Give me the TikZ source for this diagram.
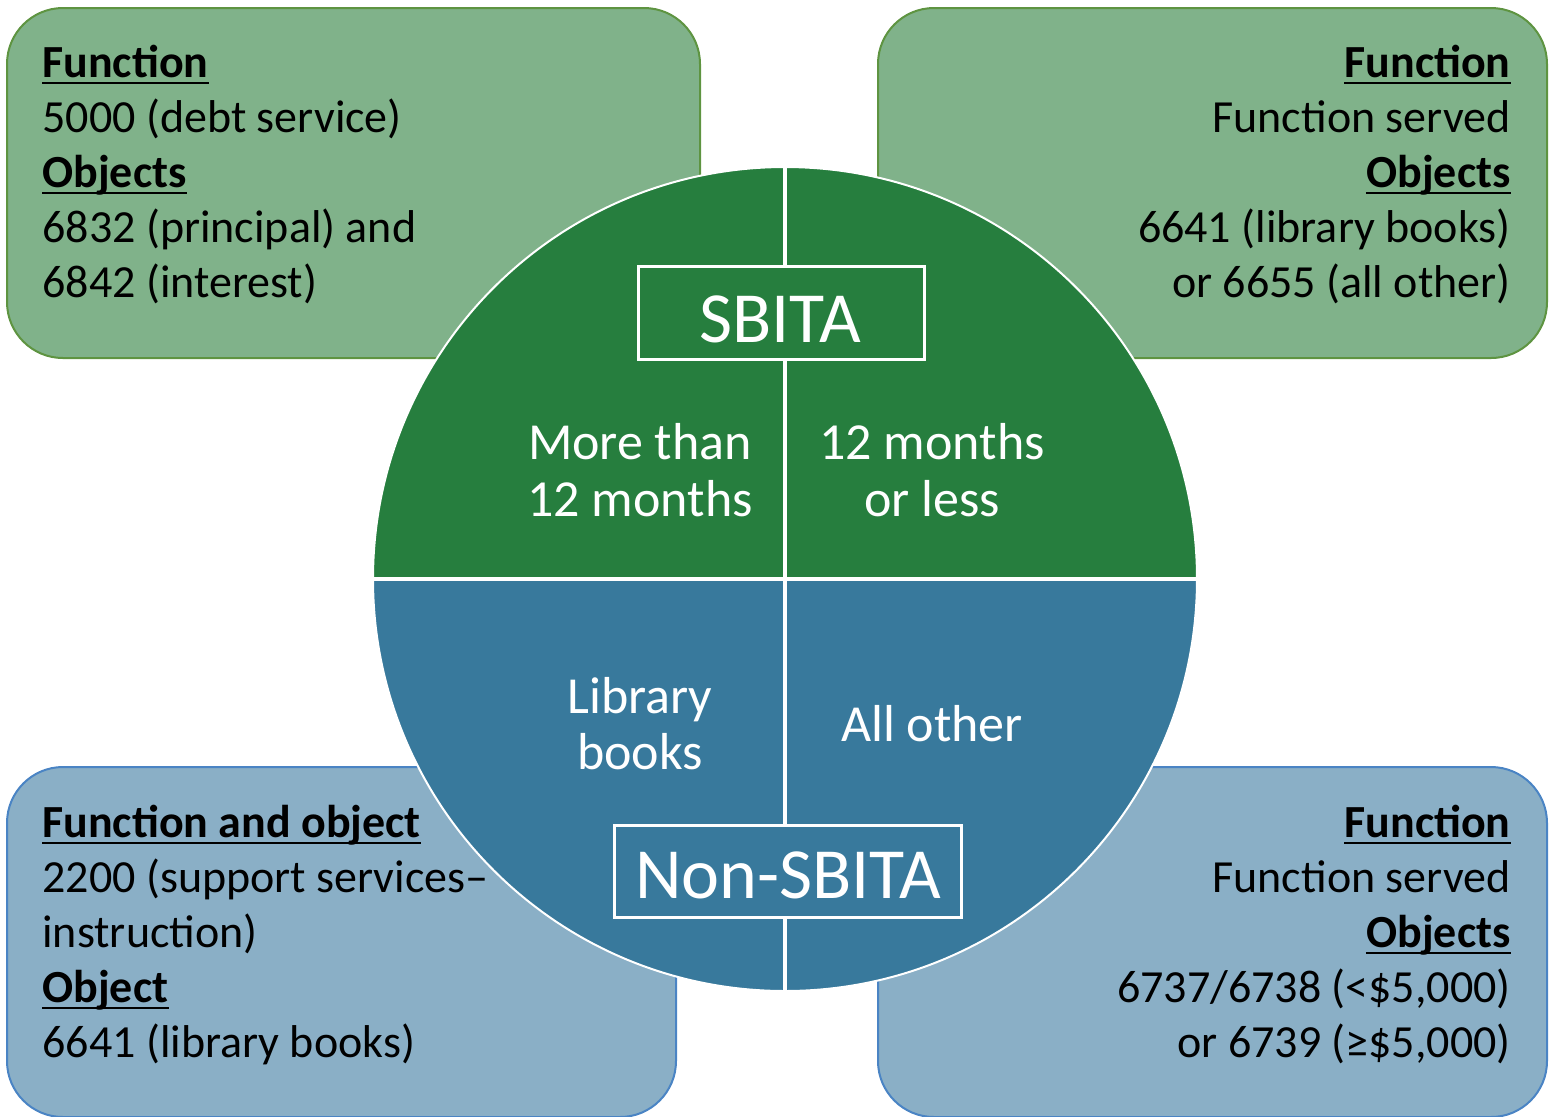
\documentclass[tikz,border=0pt]{standalone}
\usepackage{fontspec}
\setmainfont{Carlito}
\definecolor{gboxfill}{HTML}{80B28A}
\definecolor{gboxline}{HTML}{5E9441}
\definecolor{bboxfill}{HTML}{8AAFC6}
\definecolor{bboxline}{HTML}{4A84C4}
\definecolor{topgreen}{HTML}{267E3E}
\definecolor{botblue}{HTML}{38799C}
\tikzset{
  gbox/.style={draw=gboxline, fill=gboxfill, line width=1pt, rounded corners=28pt, inner sep=0pt},
  bbox/.style={draw=bboxline, fill=bboxfill, line width=1pt, rounded corners=28pt, inner sep=0pt},
  bodytxt/.style={inner sep=0pt, font=\fontsize{23pt}{27pt}\selectfont, text=black},
  headtxt/.style={bodytxt, font=\fontsize{23pt}{27pt}\selectfont\bfseries},
  quadtxt/.style={inner sep=0pt, anchor=base, font=\fontsize{26pt}{30pt}\selectfont, text=white},
  titlebox/.style={draw=white, line width=1.5pt, inner sep=0pt},
  titletxt/.style={inner sep=0pt, anchor=base, font=\fontsize{36pt}{40pt}\selectfont, text=white},
  uline/.style={line width=1.2pt, black},
}
\begin{document}
\begin{tikzpicture}[x=0.5pt, y=-0.5pt]
\useasboundingbox (0,0) rectangle (1554,1116);
% corner boxes
\node[gbox, minimum width=346.5pt, minimum height=175pt] (tl) at (353.5,183) {};
\node[gbox, minimum width=334.5pt, minimum height=175pt] (tr) at (1212.5,183) {};
\node[bbox, minimum width=334.5pt, minimum height=175pt] (bl) at (341.5,942) {};
\node[bbox, minimum width=334.5pt, minimum height=175pt] (br) at (1212.5,942) {};
% circle
\node[circle, minimum size=412pt, inner sep=0pt] (disk) at (785,579) {};
\begin{scope}
  \clip (785,579) circle[radius=412];
  \fill[topgreen] (300,100) rectangle (1300,579);
  \fill[botblue] (300,579) rectangle (1300,1100);
\end{scope}
\draw[white, line width=1pt] (785,579) circle[radius=412];
\draw[white, line width=1.75pt] (disk.west) -- (disk.east);
\draw[white, line width=1.75pt] (disk.north) -- (disk.south);
% title boxes
\node[titlebox, fill=topgreen, minimum width=143pt, minimum height=46.5pt] (sbbox) at (781,313) {};
\node[titletxt] (sbita) at (780,342) {SBITA};
\node[titlebox, fill=botblue, minimum width=173.5pt, minimum height=46pt] (nsbbox) at (787.5,871) {};
\node[titletxt] (nsbita) at (788,898) {Non-SBITA};
% quadrant texts
\node[quadtxt] (q1a) at (640,459) {More than};
\node[quadtxt] (q1b) at (640,516) {12 months};
\node[quadtxt] (q2a) at (932,459) {12 months};
\node[quadtxt] (q2b) at (932,516) {or less};
\node[quadtxt] (q3a) at (640,713) {Library};
\node[quadtxt] (q3b) at (640,769) {books};
\node[quadtxt] (q4a) at (932,741) {All other};
% top-left text
\node[headtxt, anchor=base west] (tl1) at (42,77) {Function};
\node[bodytxt, anchor=base west] (tl2) at (42,132) {5000 (debt service)};
\node[headtxt, anchor=base west] (tl3) at (42,187) {Objects};
\node[bodytxt, anchor=base west] (tl4) at (42,242) {6832 (principal) and};
\node[bodytxt, anchor=base west] (tl5) at (42,297) {6842 (interest)};
% top-right text
\node[headtxt, anchor=base east] (tr1) at (1511,77) {Function};
\node[bodytxt, anchor=base east] (tr2) at (1511,132) {Function served};
\node[headtxt, anchor=base east] (tr3) at (1511,187) {Objects};
\node[bodytxt, anchor=base east] (tr4) at (1511,242) {6641 (library books)};
\node[bodytxt, anchor=base east] (tr5) at (1511,297) {or 6655 (all other)};
% bottom-left text
\node[headtxt, anchor=base west] (bl1) at (42,837) {Function and object};
\node[bodytxt, anchor=base west] (bl2) at (42,892) {2200 (support services–};
\node[bodytxt, anchor=base west] (bl3) at (42,947) {instruction)};
\node[headtxt, anchor=base west] (bl4) at (42,1002) {Object};
\node[bodytxt, anchor=base west] (bl5) at (42,1057) {6641 (library books)};
% bottom-right text
\node[headtxt, anchor=base east] (br1) at (1511,837) {Function};
\node[bodytxt, anchor=base east] (br2) at (1511,892) {Function served};
\node[headtxt, anchor=base east] (br3) at (1511,947) {Objects};
\node[bodytxt, anchor=base east] (br4) at (1511,1002) {6737/6738 (<\$5,000)};
\node[bodytxt, anchor=base east] (br5) at (1511,1057) {or 6739 (≥\$5,000)};
% underlines
\foreach \h in {tl1,tl3,tr1,tr3,bl1,bl4,br1,br3}{
  \draw[uline] ([yshift=-3pt]\h.base west) -- ([yshift=-3pt]\h.base east);
}
\end{tikzpicture}
\end{document}
